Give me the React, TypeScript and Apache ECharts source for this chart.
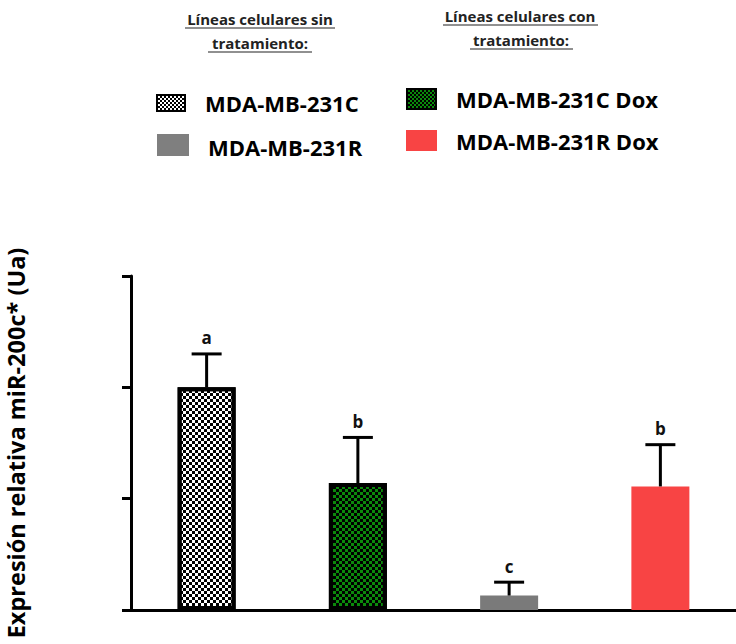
import React, { useEffect, useRef } from "react";
import * as echarts from "echarts";

const categories = ["MDA-MB-231C", "MDA-MB-231C Dox", "MDA-MB-231R", "MDA-MB-231R Dox"];
const means = [2.0, 1.14, 0.13, 1.11];
const upper = [2.3, 1.55, 0.25, 1.485];
const letters = ["a", "b", "c", "b"];
const yTicks = [0, 1, 2, 3];
const yTitle = "Expresión relativa miR-200c* (Ua)";

const FONT = "'Open Sans', 'Noto Sans', sans-serif";

function checker(x: number, y: number, w: number, h: number, cell: number, bg: string, fg: string) {
  const children: any[] = [{ type: "rect", shape: { x, y, width: w, height: h }, style: { fill: bg } }];
  const inset = 2;
  for (let yy = y + inset, r = 0; yy < y + h - inset; yy += cell, r++) {
    for (let xx = x + inset, c = 0; xx < x + w - inset; xx += cell, c++) {
      if ((r + c) % 2 === 0) {
        children.push({
          type: "rect",
          shape: { x: xx, y: yy, width: Math.min(cell, x + w - inset - xx), height: Math.min(cell, y + h - inset - yy) },
          style: { fill: fg },
        });
      }
    }
  }
  return { type: "group", children };
}

export default function App() {
  const ref = useRef<HTMLDivElement>(null);
  useEffect(() => {
    const chart = echarts.init(ref.current!, null, { renderer: "svg" });
    const decalBase = {
      symbol: "rect",
      symbolSize: 1,
      color: "#000",
      dashArrayX: [[3, 3], [0, 3, 3, 0]],
      dashArrayY: [3, 0],
      rotation: 0,
    };
    const styles = [
      { color: "#ffffff", borderColor: "#000", borderWidth: 4, decal: decalBase },
      { color: "#0b8a0b", borderColor: "#000", borderWidth: 4, decal: decalBase },
      { color: "#7a7a7a" },
      { color: "#f84444" },
    ];
    const headerStyle = { fontFamily: FONT, fontWeight: "bold", fontSize: 15, fill: "#222", align: "center", verticalAlign: "middle" };
    const legendText = { fontFamily: FONT, fontWeight: "bold", fontSize: 22, fill: "#000", verticalAlign: "middle", align: "left" };
    chart.setOption({
      animation: false,
      grid: { left: 131, top: 276, height: 334, width: 608 },
      xAxis: {
        type: "category",
        data: categories,
        axisLine: { lineStyle: { color: "#000", width: 3 } },
        axisTick: { show: false },
        axisLabel: { show: false },
      },
      yAxis: {
        type: "value",
        min: yTicks[0],
        max: yTicks[yTicks.length - 1],
        interval: 1,
        axisLine: { show: true, lineStyle: { color: "#000", width: 3 } },
        axisTick: { show: true, length: 9, lineStyle: { color: "#000", width: 3 } },
        axisLabel: { show: false },
        splitLine: { show: false },
      },
      series: [
        {
          type: "bar",
          barWidth: 58,
          data: means.map((v, i) => ({ value: v, itemStyle: styles[i] })),
        },
        {
          type: "custom",
          data: means.map((v, i) => [i, v, upper[i]]),
          renderItem: (params: any, api: any) => {
            const i = api.value(0);
            const base = api.coord([i, api.value(1)]);
            const top = api.coord([i, api.value(2)]);
            const letter = letters[params.dataIndex];
            return {
              type: "group",
              children: [
                { type: "line", shape: { x1: base[0], y1: base[1], x2: top[0], y2: top[1] }, style: { stroke: "#000", lineWidth: 3 } },
                { type: "line", shape: { x1: base[0] - 15, y1: top[1], x2: base[0] + 15, y2: top[1] }, style: { stroke: "#000", lineWidth: 3 } },
                {
                  type: "text",
                  x: base[0],
                  y: top[1] - 16,
                  style: { text: letter, fontFamily: FONT, fontWeight: "bold", fontSize: 17, fill: "#111", align: "center", verticalAlign: "middle" },
                },
              ],
            };
          },
          z: 5,
        },
      ],
      graphic: [
        { type: "text", x: 260, y: 19, style: { ...headerStyle, text: "Líneas celulares sin" } },
        { type: "text", x: 260, y: 43, style: { ...headerStyle, text: "tratamiento:" } },
        { type: "line", shape: { x1: 185, y1: 28, x2: 335, y2: 28 }, style: { stroke: "#222", lineWidth: 1.2 } },
        { type: "line", shape: { x1: 208, y1: 52, x2: 312, y2: 52 }, style: { stroke: "#222", lineWidth: 1.2 } },
        { type: "text", x: 520, y: 16, style: { ...headerStyle, text: "Líneas celulares con" } },
        { type: "text", x: 521, y: 40, style: { ...headerStyle, text: "tratamiento:" } },
        { type: "line", shape: { x1: 443, y1: 25, x2: 598, y2: 25 }, style: { stroke: "#222", lineWidth: 1.2 } },
        { type: "line", shape: { x1: 470, y1: 49, x2: 573, y2: 49 }, style: { stroke: "#222", lineWidth: 1.2 } },
        checker(156, 94, 30, 18, 2, "#000", "#fff"),
        { type: "rect", shape: { x: 157, y: 134, width: 32, height: 22 }, style: { fill: "#7f7f7f" } },
        checker(406, 88, 31, 22, 2, "#000", "#0a8a0a"),
        { type: "rect", shape: { x: 406, y: 130, width: 31, height: 21 }, style: { fill: "#f84444" } },
        { type: "text", x: 205, y: 103, style: { ...legendText, text: categories[0] } },
        { type: "text", x: 208, y: 147, style: { ...legendText, text: categories[2] } },
        { type: "text", x: 456, y: 99, style: { ...legendText, text: categories[1] } },
        { type: "text", x: 456, y: 141, style: { ...legendText, text: categories[3] } },
        {
          type: "text",
          x: 16,
          y: 443,
          rotation: Math.PI / 2,
          style: { text: yTitle, fontFamily: FONT, fontWeight: "bold", fontSize: 23.5, fill: "#000", align: "center", verticalAlign: "middle" },
        },
      ],
    });
    return () => chart.dispose();
  }, []);
  return <div ref={ref} style={{ position: "absolute", left: 0, top: 0, width: 736, height: 644 }} />;
}
